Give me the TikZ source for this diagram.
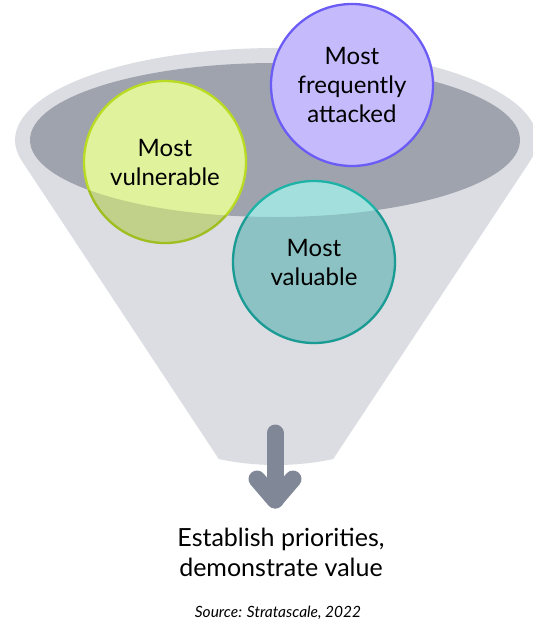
\documentclass[tikz,border=0pt]{standalone}
\usepackage{fontspec}
\setmainfont{Lato}
\usetikzlibrary{positioning}

\definecolor{rimgray}{HTML}{DCDDE2}
\definecolor{holegray}{HTML}{9EA3AD}
\definecolor{arrowgray}{HTML}{808897}
\definecolor{attackfill}{HTML}{C4BAFC}
\definecolor{attackline}{HTML}{6B5CF6}
\definecolor{vulnfill}{HTML}{E0F29C}
\definecolor{vulnline}{HTML}{B9DC23}
\definecolor{valuefill}{HTML}{A3E0DD}
\definecolor{valueline}{HTML}{1FB3A8}

\begin{document}
\begin{tikzpicture}[x=1pt, y=-1pt,
    rim/.style={x radius=261pt, y radius=92pt},
    hole/.style={x radius=245pt, y radius=77pt},
    bubble/.style={circle, minimum size=162pt, inner sep=0pt, line width=2.3pt, align=center, font=\fontsize{24}{29}\selectfont},
    pointer/.style={arrowgray, line width=17pt, line cap=round, line join=round}]
  \useasboundingbox (0,0) rectangle (533,625);

  % funnel body and its opening
  \fill[rimgray] (15,140) arc [start angle=180, end angle=193.12, rim]
    -- (218.8,459) .. controls (255,467) and (297,467) .. (333.2,459)
    -- (530.2,160.9) arc [start angle=346.88, end angle=540, rim] -- cycle;
  \fill[holegray] (275,140) ellipse [hole];

  % the three groups
  \node[bubble, fill=attackfill, draw=attackline] (attacked) at (352,85) {Most\\frequently\\attacked};
  \node[bubble, fill=vulnfill, draw=vulnline] (vulnerable) at (165,162) {Most\\vulnerable};
  \node[bubble, fill=valuefill, draw=valueline] (valuable) at (314,262) {Most\\valuable};

  % front wall of the funnel shades what sinks below the opening
  \begin{scope}
    \clip (15,140) arc [start angle=180, end angle=193.12, rim]
      -- (218.8,459) .. controls (255,467) and (297,467) .. (333.2,459)
      -- (530.2,160.9) arc [start angle=346.88, end angle=360, rim]
      -- (520,140) arc [start angle=0, end angle=-180, hole] -- cycle;
    \fill[rimgray, blend mode=multiply]
      (vulnerable.center) circle [radius=82.2pt]
      (valuable.center) circle [radius=82.2pt];
  \end{scope}

  % spout arrow
  \coordinate (stem) at (275,433);
  \coordinate (tip) at (275,500);
  \draw[pointer] (stem) -- (tip);
  \draw[pointer] (tip) +(-18,-21) -- (tip) -- +(18,-21);

  \node[font=\fontsize{25}{30}\selectfont, align=center] (outcome) at (281,552) {Establish priorities,\\demonstrate value};
  \node[font=\fontsize{15.5}{18}\selectfont\itshape] (source) at (278,613) {Source: Stratascale, 2022};
\end{tikzpicture}
\end{document}
